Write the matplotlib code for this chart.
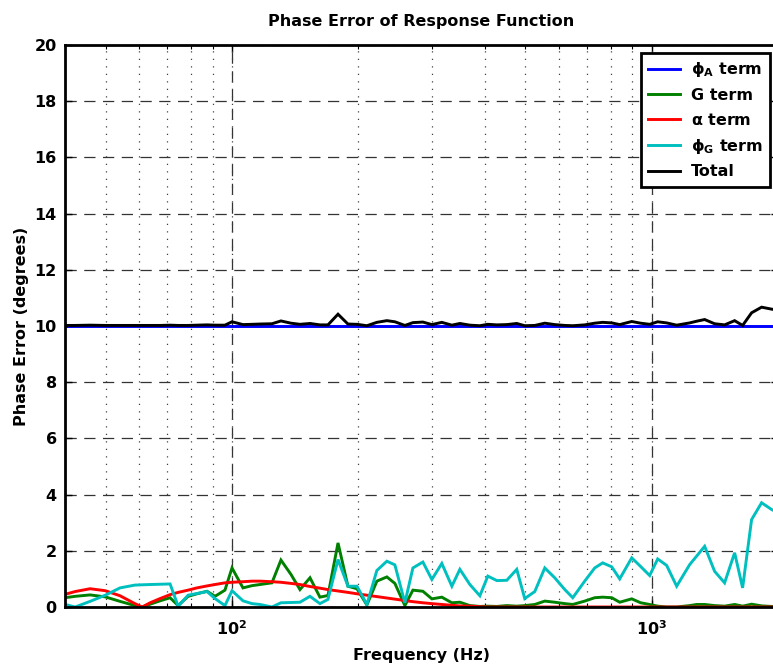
import numpy as np
import matplotlib
matplotlib.use("Agg")
import matplotlib.pyplot as plt
from matplotlib.ticker import FixedLocator, NullFormatter

# Frequency points (Hz)
freq = [40.0, 42.3, 45.9, 49.9, 54.1, 58.7, 61.1, 63.8, 67.4, 71.2, 74.4, 78.6, 82.5,
        87.2, 91.1, 96.2, 100.0, 106.2, 111.6, 116.6, 124.5, 130.8, 138.2, 145.2,
        153.4, 162.0, 169.3, 178.9, 188.9, 198.5, 209.6, 221.4, 233.9, 244.4, 258.2,
        269.8, 285.0, 299.4, 316.2, 334.1, 349.1, 368.8, 389.6, 407.0, 427.6, 451.6,
        477.0, 498.4, 526.6, 556.3, 587.5, 620.9, 648.6, 692.5, 731.6, 764.4, 803.2,
        839.1, 896.4, 941.4, 989.1, 1033.5, 1085.7, 1147.0, 1232.0, 1279.8, 1337.3,
        1412.5, 1492.0, 1576.5, 1647.0, 1730.2, 1827.8, 1931.0, 2000.0]

# Phase error contributions (degrees)
phi_a_term = [10.0] * len(freq)

g_term = [0.33, 0.38, 0.43, 0.36, 0.20, 0.05, 0.0, 0.10, 0.22, 0.33, 0.05, 0.38, 0.47,
          0.56, 0.38, 0.60, 1.39, 0.68, 0.76, 0.80, 0.86, 1.67, 1.16, 0.62,
          1.04, 0.35, 0.41, 2.28, 0.74, 0.65, 0.07, 0.92, 1.07, 0.84, 0.05,
          0.60, 0.56, 0.29, 0.35, 0.15, 0.17, 0.05, 0.02, 0.03, 0.02, 0.05,
          0.03, 0.05, 0.09, 0.21, 0.17, 0.12, 0.09, 0.21, 0.33, 0.35, 0.33,
          0.17, 0.29, 0.15, 0.09, 0.03, 0.0, 0.0, 0.05, 0.09, 0.09,
          0.05, 0.03, 0.09, 0.03, 0.10, 0.04, 0.02, 0.02]

alpha_term = [0.45, 0.55, 0.65, 0.58, 0.40, 0.12, 0.0, 0.15, 0.30, 0.44, 0.52, 0.60, 0.68,
              0.75, 0.80, 0.86, 0.88, 0.90, 0.92, 0.92, 0.90, 0.88, 0.84, 0.80,
              0.73, 0.67, 0.62, 0.57, 0.52, 0.47, 0.42, 0.37, 0.32, 0.28, 0.23,
              0.19, 0.15, 0.12, 0.09, 0.06, 0.04, 0.03, 0.01, 0.0, 0.0, 0.0,
              0.0, 0.0, 0.0, 0.0, 0.0, 0.0, 0.0, 0.0, 0.0, 0.0, 0.0,
              0.0, 0.0, 0.0, 0.0, 0.0, 0.0, 0.0, 0.0, 0.0, 0.0,
              0.0, 0.0, 0.0, 0.0, 0.0, 0.0, 0.0, 0.0]

phi_g_term = [0.09, 0.0, 0.20, 0.42, 0.68, 0.78, 0.79, 0.80, 0.81, 0.82, 0.03, 0.42, 0.48,
              0.55, 0.30, 0.05, 0.58, 0.22, 0.12, 0.09, 0.0, 0.15, 0.16, 0.17,
              0.38, 0.12, 0.27, 1.69, 0.74, 0.74, 0.09, 1.30, 1.63, 1.50, 0.15,
              1.39, 1.60, 0.98, 1.55, 0.74, 1.34, 0.80, 0.40, 1.10, 0.94, 0.95,
              1.34, 0.30, 0.55, 1.39, 1.04, 0.62, 0.33, 0.92, 1.39, 1.57, 1.43,
              1.00, 1.75, 1.44, 1.12, 1.71, 1.48, 0.74, 1.51, 1.81, 2.16,
              1.27, 0.86, 1.93, 0.68, 3.11, 3.71, 3.47, 3.35]

total = [10.02, 10.02, 10.03, 10.02, 10.02, 10.02, 10.02, 10.02, 10.02, 10.03, 10.02, 10.02, 10.03,
         10.04, 10.03, 10.03, 10.15, 10.05, 10.06, 10.07, 10.08, 10.18, 10.10, 10.06,
         10.09, 10.04, 10.04, 10.42, 10.07, 10.06, 10.01, 10.13, 10.19, 10.15, 10.02,
         10.12, 10.14, 10.05, 10.13, 10.03, 10.09, 10.03, 10.01, 10.06, 10.04, 10.05,
         10.09, 10.01, 10.02, 10.10, 10.05, 10.02, 10.01, 10.04, 10.10, 10.13, 10.11,
         10.05, 10.16, 10.10, 10.06, 10.15, 10.11, 10.03, 10.11, 10.17, 10.23,
         10.08, 10.04, 10.19, 10.02, 10.47, 10.67, 10.60, 10.56]

series_labels = [r"$\phi_{\mathbf{A}}$ term", "G term", r"$\alpha$ term",
                 r"$\phi_{\mathbf{G}}$ term", "Total"]
series_colors = ["#0000ff", "#008000", "#ff0000", "#00bfbf", "#000000"]

y_ticks = [0, 2, 4, 6, 8, 10, 12, 14, 16, 18, 20]

plt.rcParams["font.family"] = ["DejaVu Sans"]
plt.rcParams["font.weight"] = "bold"
plt.rcParams["mathtext.fontset"] = "custom"
plt.rcParams["mathtext.rm"] = "DejaVu Sans:bold"
plt.rcParams["mathtext.bf"] = "DejaVu Sans:bold"
plt.rcParams["mathtext.it"] = "DejaVu Sans:bold"
plt.rcParams["mathtext.default"] = "regular"

fig = plt.figure(figsize=(7.73, 6.64), dpi=100)
ax = fig.add_axes([65 / 773, 57 / 664, 713 / 773, 562 / 664])

series = [phi_a_term, g_term, alpha_term, phi_g_term, total]
for values, label, color in zip(series, series_labels, series_colors):
    ax.plot(freq, values, color=color, lw=2.1, label=label, solid_joinstyle="miter")

ax.set_xscale("log")
ax.set_xlim(40, 2000)
ax.set_ylim(0, 20)
ax.set_yticks(y_ticks)

minor_locs = [50, 60, 70, 80, 90, 100, 200, 300, 400, 500, 600, 700, 800, 900, 1000, 2000]
ax.xaxis.set_minor_locator(FixedLocator(minor_locs))
ax.xaxis.set_minor_formatter(NullFormatter())
ax.xaxis.remove_overlapping_locs = False

ax.grid(True, which="major", color="0.2", lw=0.9, linestyle=(0, (9, 6)))
ax.grid(True, which="minor", axis="x", color="0.25", lw=0.9, linestyle=(0, (1, 5)))
ax.set_axisbelow(True)

ax.tick_params(which="both", direction="in", top=True, right=True, labelsize=11.5)
ax.tick_params(which="major", length=5, width=1.0, pad=6)
ax.tick_params(axis="x", which="major", pad=9)
ax.tick_params(which="minor", length=3, width=0.8)
for lab in ax.get_xticklabels() + ax.get_yticklabels():
    lab.set_fontweight("bold")
for sp in ax.spines.values():
    sp.set_linewidth(2.0)

ax.set_title("Phase Error of Response Function", fontsize=11.5, fontweight="bold", pad=14)
ax.set_xlabel("Frequency (Hz)", fontsize=11.5, fontweight="bold", labelpad=7)
ax.set_ylabel("Phase Error (degrees)", fontsize=11.5, fontweight="bold", labelpad=4)

leg = ax.legend(loc="upper right", bbox_to_anchor=(770 / 773, 1 - 53 / 664),
                bbox_transform=fig.transFigure, borderaxespad=0, fancybox=False,
                framealpha=1, edgecolor="black", fontsize=11.5, handlelength=2.0,
                handletextpad=0.7, labelspacing=0.55, borderpad=0.45)
leg.get_frame().set_linewidth(2.0)
for txt in leg.get_texts():
    txt.set_fontweight("bold")

fig.savefig("out.png", dpi=100)
